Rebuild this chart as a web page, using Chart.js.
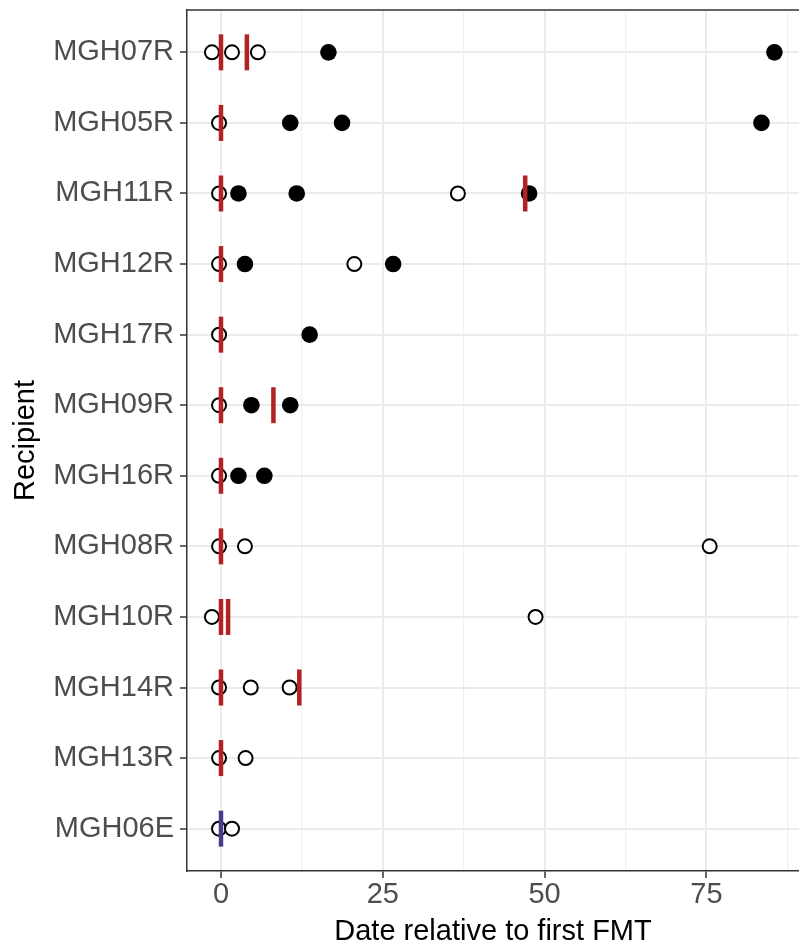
<!DOCTYPE html>
<html>
<head>
<meta charset="utf-8">
<script src="https://cdn.jsdelivr.net/npm/chart.js@4.4.0/dist/chart.umd.min.js"></script>
<style>
  html, body { margin: 0; padding: 0; background: #fff; }
  canvas { display: block; }
</style>
</head>
<body>
<canvas id="fmtChart" width="799" height="946"></canvas>
<script>
// recipients, top to bottom
const recipients = ['MGH07R', 'MGH05R', 'MGH11R', 'MGH12R', 'MGH17R', 'MGH09R',
                    'MGH16R', 'MGH08R', 'MGH10R', 'MGH14R', 'MGH13R', 'MGH06E'];

// sample days (open circles / filled circles), one list per recipient
const openDays = [[-1.4, 1.7, 5.7], [-0.3], [-0.3, 36.6], [-0.3, 20.6], [-0.3], [-0.3],
                  [-0.3], [-0.3, 3.7, 75.5], [-1.4, 48.6], [-0.3, 4.6, 10.6], [-0.3, 3.8], [-0.3, 1.7]];
const filledDays = [[16.6, 85.5], [10.7, 18.7, 83.5], [2.7, 11.7, 47.6], [3.7, 26.6], [13.7],
                    [4.7, 10.7], [2.7, 6.7], [], [], [], [], []];

// FMT days (red bars), and the one blue bar
const fmtDays = [[0, 4.0], [0], [0, 47.0], [0], [0], [0, 8.1], [0], [0], [0, 1.1], [0, 12.1], [0], []];
const otherFmtDays = [[], [], [], [], [], [], [], [], [], [], [], [0]];

const xTicks = [0, 12.5, 25, 37.5, 50, 62.5, 75, 87.5];
const xMin = -5.25, xMax = 89.3;

function toPoints(lists) {
    let pts = [];
    lists.forEach((days, i) => {
        days.forEach(d => pts.push({ x: d, y: i }));
    });
    return pts;
}

const isMajor = v => v % 25 === 0;

// top border of the panel
const topBorder = {
    id: 'topBorder',
    afterDraw(chart) {
        const { ctx, chartArea } = chart;
        ctx.save();
        ctx.strokeStyle = '#333333';
        ctx.lineWidth = 1.5;
        ctx.beginPath();
        ctx.moveTo(chartArea.left, chartArea.top);
        ctx.lineTo(chartArea.right, chartArea.top);
        ctx.stroke();
        ctx.restore();
    }
};

const fmtChart = new Chart(document.getElementById('fmtChart'), {
    type: 'scatter',
    data: {
        datasets: [
            {
                label: 'FMT',
                data: toPoints(fmtDays),
                pointStyle: 'line',
                rotation: 90,
                pointRadius: 18,
                borderWidth: 4.5,
                borderColor: '#B22222',
                backgroundColor: '#B22222',
                order: 0
            },
            {
                label: 'FMT (other)',
                data: toPoints(otherFmtDays),
                pointStyle: 'line',
                rotation: 90,
                pointRadius: 18,
                borderWidth: 4.5,
                borderColor: '#483D8B',
                backgroundColor: '#483D8B',
                order: 1
            },
            {
                label: 'filled',
                data: toPoints(filledDays),
                pointStyle: 'circle',
                pointRadius: 8.3,
                borderWidth: 0,
                borderColor: '#000',
                backgroundColor: '#000',
                order: 2
            },
            {
                label: 'open',
                data: toPoints(openDays),
                pointStyle: 'circle',
                pointRadius: 7,
                borderWidth: 2,
                borderColor: '#000',
                backgroundColor: '#fff',
                order: 3
            }
        ]
    },
    options: {
        responsive: false,
        animation: false,
        events: [],
        layout: { autoPadding: false, padding: { top: 10, right: 0, bottom: 0, left: 0 } },
        plugins: {
            legend: { display: false },
            tooltip: { enabled: false }
        },
        scales: {
            x: {
                type: 'linear',
                min: xMin,
                max: xMax,
                afterBuildTicks: scale => { scale.ticks = xTicks.map(v => ({ value: v })); },
                afterFit: scale => {
                    scale.height = 75;
                    scale.paddingLeft = 0;
                    scale.paddingRight = 0;
                },
                grid: {
                    color: ctx => isMajor(ctx.tick.value) ? '#EBEBEB' : '#EFEFEF',
                    lineWidth: ctx => isMajor(ctx.tick.value) ? 2 : 1.2,
                    tickColor: ctx => isMajor(ctx.tick.value) ? '#333333' : 'rgba(0,0,0,0)',
                    tickLength: 7,
                    tickWidth: 1.5
                },
                border: { color: '#333333', width: 1.5 },
                ticks: {
                    autoSkip: false,
                    maxRotation: 0,
                    padding: 0,
                    color: '#4D4D4D',
                    font: { family: 'Liberation Sans, Arial, sans-serif', size: 29 },
                    callback: v => isMajor(v) ? String(v) : ''
                },
                title: {
                    display: true,
                    text: 'Date relative to first FMT',
                    color: '#000',
                    padding: { top: 0, bottom: 0 },
                    font: { family: 'Liberation Sans, Arial, sans-serif', size: 29, lineHeight: 1 }
                }
            },
            y: {
                type: 'linear',
                reverse: true,
                min: -0.6,
                max: recipients.length - 0.4,
                afterBuildTicks: scale => { scale.ticks = recipients.map((r, i) => ({ value: i })); },
                afterFit: scale => {
                    scale.width = 187;
                    scale.paddingTop = 0;
                    scale.paddingBottom = 0;
                },
                grid: {
                    color: '#EBEBEB',
                    lineWidth: 2,
                    tickColor: '#333333',
                    tickLength: 7,
                    tickWidth: 1.5
                },
                border: { color: '#333333', width: 1.5 },
                ticks: {
                    autoSkip: false,
                    padding: 6,
                    color: '#4D4D4D',
                    font: { family: 'Liberation Sans, Arial, sans-serif', size: 29 },
                    callback: v => recipients[v]
                },
                title: {
                    display: true,
                    text: 'Recipient',
                    color: '#000',
                    padding: { top: 11, bottom: 0 },
                    font: { family: 'Liberation Sans, Arial, sans-serif', size: 29, lineHeight: 1 }
                }
            }
        }
    },
    plugins: [topBorder]
});
</script>
</body>
</html>
